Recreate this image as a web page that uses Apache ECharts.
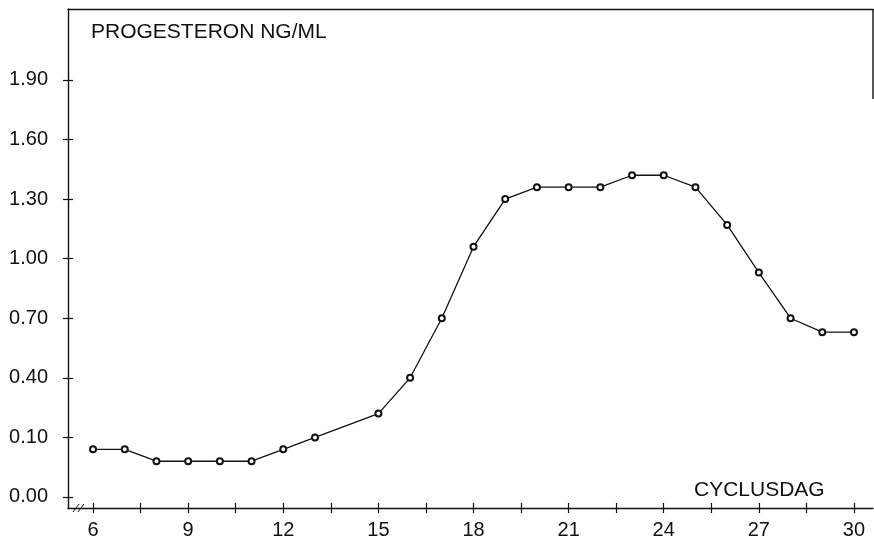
<!DOCTYPE html>
<html>
<head>
<meta charset="utf-8">
<script src="https://cdn.jsdelivr.net/npm/echarts@6/dist/echarts.min.js"></script>
<style>html,body{margin:0;padding:0;background:#fff}#c{width:874px;height:546px}</style>
</head>
<body>
<div id="c"></div>
<script>
// Data
const days = [6,7,8,9,10,11,12,13,15,16,17,18,19,20,21,22,23,24,25,26,27,28,29,30];
const progesteron = [0.08,0.08,0.06,0.06,0.06,0.06,0.08,0.10,0.22,0.40,0.70,1.06,1.30,1.36,1.36,1.36,1.42,1.42,1.36,1.17,0.93,0.70,0.63,0.63];
const yTickValues = [0.00,0.10,0.40,0.70,1.00,1.30,1.60,1.90];
const yTickLabels = ['0.00','0.10','0.40','0.70','1.00','1.30','1.60','1.90'];
const xTickLabels = [6,9,12,15,18,21,24,27,30];
const xMinorTicks = [6,7.5,9,10.5,12,13.5,15,16.5,18,19.5,21,22.5,24,25.5,27,28.5,30];
const titleText = 'PROGESTERON NG/ML';
const xName = 'CYCLUSDAG';

// broken y scale: 0.00-0.10 gets one step, above that each 0.30 is one step
function toAxis(v){ return v <= 0.1 ? v / 0.1 : 1 + (v - 0.1) / 0.3; }

const yCustom = yTickValues.map(toAxis);
const X_MIN = 5.21, X_MAX = 30.6, Y_MIN = -0.185, Y_MAX = 8.19;
const FONT = 'Liberation Sans, Arial, sans-serif';
const INK = '#111111';

const chart = echarts.init(document.getElementById('c'), null, {renderer:'canvas'});
const gridRect = {left:68, right:1, top:9, bottom:38};
const labelFmtY = function(val){
  for (let i=0;i<yCustom.length;i++){ if (Math.abs(yCustom[i]-val) < 1e-6) return yTickLabels[i]; }
  return '';
};
chart.setOption({
  animation:false,
  backgroundColor:'#fff',
  grid:[Object.assign({}, gridRect), Object.assign({}, gridRect)],
  xAxis:[
    {type:'value', gridIndex:0, position:'bottom', min:X_MIN, max:X_MAX,
     axisLine:{show:true, onZero:false, lineStyle:{color:INK, width:1.4}},
     axisTick:{show:true, length:5, customValues:xMinorTicks, lineStyle:{color:INK, width:1.2}},
     axisLabel:{show:true, customValues:xTickLabels, margin:12, color:INK, fontSize:20, fontFamily:FONT},
     splitLine:{show:false}},
    {type:'value', gridIndex:0, position:'top', min:X_MIN, max:X_MAX,
     axisLine:{show:true, onZero:false, lineStyle:{color:INK, width:1.4}},
     axisTick:{show:false}, axisLabel:{show:false}, splitLine:{show:false}},
    {type:'value', gridIndex:1, position:'bottom', min:X_MIN, max:X_MAX,
     axisLine:{show:false, onZero:false},
     axisTick:{show:true, inside:true, length:5, customValues:xMinorTicks, lineStyle:{color:INK, width:1.2}},
     axisLabel:{show:false}, splitLine:{show:false}}
  ],
  yAxis:[
    {type:'value', gridIndex:0, min:Y_MIN, max:Y_MAX,
     axisLine:{show:true, onZero:false, lineStyle:{color:INK, width:1.4}},
     axisTick:{show:true, length:5, customValues:yCustom, lineStyle:{color:INK, width:1.2}},
     axisLabel:{show:true, customValues:yCustom, formatter:labelFmtY, margin:20, color:INK, fontSize:20, fontFamily:FONT},
     splitLine:{show:false}},
    {type:'value', gridIndex:1, min:Y_MIN, max:Y_MAX,
     axisLine:{show:false, onZero:false},
     axisTick:{show:true, inside:true, length:5, customValues:yCustom, lineStyle:{color:INK, width:1.2}},
     axisLabel:{show:false}, splitLine:{show:false}}
  ],
  series:[{
    type:'line', xAxisIndex:0, yAxisIndex:0,
    data: days.map((d,i)=>[d, toAxis(progesteron[i])]),
    symbol:'emptyCircle', symbolSize:6,
    lineStyle:{color:INK, width:1.3},
    itemStyle:{color:INK, borderColor:INK, borderWidth:1.8},
    emphasis:{disabled:true}
  }]
});

const tr = chart.convertToPixel({gridIndex:0}, [X_MAX, Y_MAX]);
const bl = chart.convertToPixel({gridIndex:0}, [X_MIN, Y_MIN]);
chart.setOption({
  graphic:[
    {type:'text', left:91, top:22, style:{text:titleText, font:'21px ' + FONT, fill:INK}},
    {type:'text', left:694, top:480, style:{text:xName, font:'21px ' + FONT, fill:INK}},
    {type:'line', shape:{x1:tr[0], y1:tr[1], x2:tr[0], y2:tr[1]+90}, style:{stroke:INK, lineWidth:1.4}},
    {type:'line', shape:{x1:bl[0]+5, y1:bl[1]+4, x2:bl[0]+11, y2:bl[1]-4}, style:{stroke:INK, lineWidth:1}},
    {type:'line', shape:{x1:bl[0]+10, y1:bl[1]+4, x2:bl[0]+16, y2:bl[1]-4}, style:{stroke:INK, lineWidth:1}}
  ]
});
</script>
</body>
</html>
